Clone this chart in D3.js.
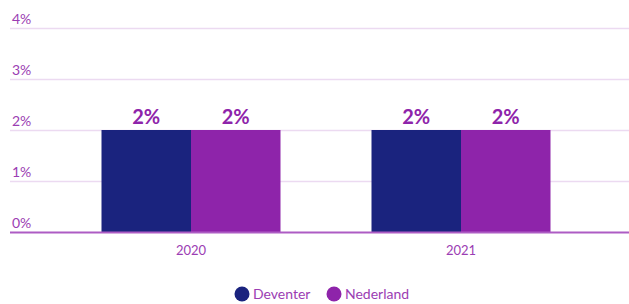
<!DOCTYPE html>
<html>
<head>
<meta charset="utf-8">
<script src="https://cdn.jsdelivr.net/npm/d3@7"></script>
<style>
  body { margin: 0; background: #fff; }
  svg text { font-family: "Lato", "Open Sans", sans-serif; }
</style>
</head>
<body>
<svg id="chart" width="629" height="304"></svg>
<script>
// data
const years = ["2020", "2021"];
const seriesNames = ["Deventer", "Nederland"];
const deventer = [2, 2];
const nederland = [2, 2];
const yTicks = [0, 1, 2, 3, 4];

const colors = { "Deventer": "#1a237e", "Nederland": "#8e24aa" };
const textColor = "#9b3db3";

const width = 629, height = 304;
const MARGIN = { LEFT: 10, RIGHT: 0, TOP: 28, BOTTOM: 72 };

let svg = d3.select("#chart");

let yScale = d3.scaleLinear()
    .domain([0, 4])
    .range([height - MARGIN.BOTTOM, MARGIN.TOP]);

let xScale = d3.scaleBand()
    .domain(years)
    .range([56, 596])
    .padding(0);

let xInner = d3.scaleBand()
    .domain(seriesNames)
    .range([xScale.bandwidth() / 2 - 89.5, xScale.bandwidth() / 2 + 89.5]);

// gridlines + tick labels
let grid = svg.append("g");
grid.selectAll("line")
    .data(yTicks.filter(d => d > 0))
    .join("line")
    .attr("x1", MARGIN.LEFT)
    .attr("x2", width)
    .attr("y1", d => yScale(d) + 0.5)
    .attr("y2", d => yScale(d) + 0.5)
    .attr("stroke", "#ecdaf1")
    .attr("stroke-width", 1.5);

grid.selectAll("text")
    .data(yTicks)
    .join("text")
    .attr("x", 12)
    .attr("y", d => yScale(d) - 4)
    .text(d => d + "%")
    .style("fill", textColor)
    .style("font-size", "14px");

// bars
const dataReady = years.map((y, i) => ({
  year: y,
  values: [
    { name: "Deventer", value: deventer[i] },
    { name: "Nederland", value: nederland[i] }
  ]
}));

let groups = svg.selectAll(".yearGroup")
    .data(dataReady)
    .join("g")
    .attr("class", "yearGroup")
    .attr("transform", d => "translate(" + xScale(d.year) + ",0)");

groups.selectAll("rect")
    .data(d => d.values)
    .join("rect")
    .attr("x", d => xInner(d.name))
    .attr("width", xInner.bandwidth())
    .attr("y", d => yScale(d.value))
    .attr("height", d => yScale(0) - yScale(d.value))
    .attr("fill", d => colors[d.name]);

groups.selectAll(".valLabel")
    .data(d => d.values)
    .join("text")
    .attr("class", "valLabel")
    .attr("x", d => xInner(d.name) + xInner.bandwidth() / 2)
    .attr("y", d => yScale(d.value) - 6)
    .attr("text-anchor", "middle")
    .text(d => d.value + "%")
    .style("fill", "#8e24aa")
    .style("font-size", "20px")
    .style("font-weight", "bold");

// baseline
svg.append("line")
    .attr("x1", MARGIN.LEFT)
    .attr("x2", width)
    .attr("y1", yScale(0) + 0.5)
    .attr("y2", yScale(0) + 0.5)
    .attr("stroke", "#ad5cc4")
    .attr("stroke-width", 2);

// x labels
let xAxis = d3.axisBottom(xScale).tickSize(0).tickPadding(14);
let xg = svg.append("g")
    .attr("transform", "translate(0," + yScale(0) + ")")
    .call(xAxis);
xg.select(".domain").remove();
xg.selectAll("text")
    .style("fill", textColor)
    .style("font-size", "13px")
    .style("font-family", "Lato, 'Open Sans', sans-serif");

// legend
let legend = svg.append("g");
const legendX = [242, 334];
seriesNames.forEach((n, i) => {
  legend.append("circle")
    .attr("cx", legendX[i])
    .attr("cy", 294)
    .attr("r", 7.5)
    .attr("fill", colors[n]);
  legend.append("text")
    .attr("x", legendX[i] + 11)
    .attr("y", 299)
    .text(n)
    .style("fill", textColor)
    .style("font-size", "14px");
});
</script>
</body>
</html>
